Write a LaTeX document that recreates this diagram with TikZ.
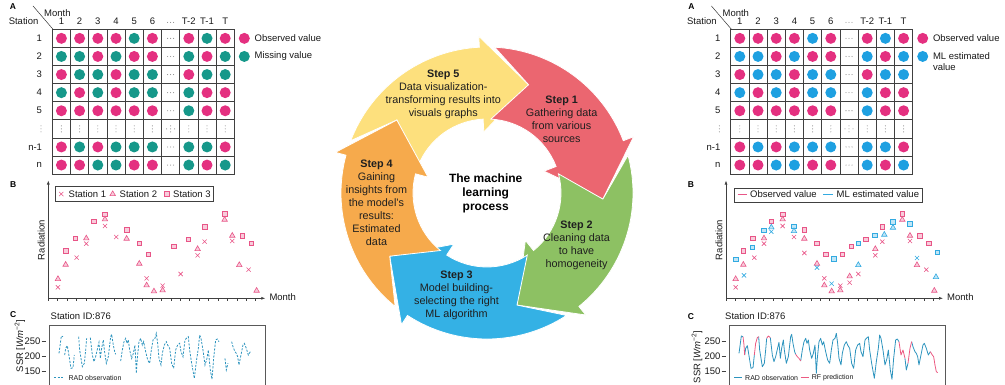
\documentclass[tikz,border=0pt]{standalone}
\usepackage{fontspec}
\setmainfont{Liberation Sans}
\usetikzlibrary{arrows.meta}
\usetikzlibrary{shapes.geometric,shapes.misc}

\definecolor{obspink}{RGB}{228,48,128}
\definecolor{missteal}{RGB}{22,152,138}
\definecolor{mlblue}{RGB}{30,160,225}
\definecolor{mkpink}{RGB}{232,85,135}
\definecolor{mkblue}{RGB}{50,170,225}
\definecolor{radline}{RGB}{45,148,190}
\definecolor{rfline}{RGB}{236,90,130}
\definecolor{stepred}{RGB}{235,102,112}
\definecolor{stepgreen}{RGB}{141,193,99}
\definecolor{stepblue}{RGB}{52,177,229}
\definecolor{steporange}{RGB}{246,170,76}
\definecolor{stepyellow}{RGB}{253,224,125}

% station x month table: 1 = observed, 0 = missing/estimated, 2 = skipped months
\def\gridrows{1/{1,1,1,1,0,1,2,1,0,1},2/{0,0,1,0,1,1,2,0,1,0},3/{1,0,0,1,0,0,2,1,0,0},
  4/{0,1,0,1,0,0,2,0,1,1},5/{1,1,1,1,1,1,2,0,1,1},7/{1,0,1,0,0,0,2,0,0,1},8/{1,1,0,0,1,1,2,0,1,0}}

% radiation points: x/y/mark (0 cross, 1 triangle, 2 square)/class (0 observed, 1 observed, 2 estimated)
\def\raddata{137/268/2/2,137/327/1/0,137/352/0/0,160/243/2/0,160/284/1/0,162/316/0/2,
  189/205/2/0,187/232/2/2,193/263/0/0,222/181/2/2,222/205/1/0,222/221/0/0,
  244/154/2/0,244/172/1/2,244/185/0/2,278/133/2/0,278/148/1/0,278/168/0/0,
  312/169/2/2,312/183/1/2,312/201/0/0,343/180/2/0,343/206/1/0,343/249/0/1,
  381/220/2/0,381/281/1/0,381/293/0/2,403/325/0/0,403/346/1/0,408/253/2/0,
  425/341/0/2,425/364/1/0,431/267/2/2,451/347/0/0,451/361/1/0,457/253/2/1,
  479/319/1/1,479/338/0/1,484/229/2/0,505/220/2/2,505/285/1/2,505/312/0/0,
  528/208/2/0,555/196/2/2,556/237/1/0,556/256/0/0,577/170/2/0,577/215/0/0,
  583/194/1/2,609/156/2/2,609/173/1/2,637/131/2/0,637/149/1/0,660/162/2/2,
  660/197/1/0,660/213/0/0,681/264/0/2,681/285/1/0,690/197/2/0,709/299/0/0,
  717/220/2/0,733/362/1/0,738/321/1/2,742/247/2/2}

% SSR series, observed stretches and gap-filling stretches
\def\ssrobs{(30,85) -- (37,33) -- (42,35)
  (47,90) -- (50,70) -- (55,62) -- (58,80) -- (62,105) -- (66,130) -- (72,128) -- (76,90)
  (89,35) -- (92,75) -- (96,100) -- (100,125) -- (106,115) -- (110,75) -- (113,40)
  (124,38) -- (130,90) -- (135,110) -- (140,95) -- (148,60) -- (150,52) -- (154,100) -- (158,70)
    -- (163,45) -- (166,75) -- (172,115) -- (178,95) -- (185,35) -- (188,28) -- (192,55) -- (197,80) -- (200,88)
  (215,108) -- (220,75) -- (225,50) -- (230,40) -- (234,55) -- (238,45) -- (242,75) -- (248,100)
    -- (253,85) -- (258,60) -- (262,145) -- (265,100) -- (270,50) -- (275,40) -- (280,60) -- (284,50)
    -- (290,80) -- (296,105) -- (302,115) -- (307,75) -- (312,45) -- (318,40) -- (322,25) -- (326,55)
    -- (330,100) -- (336,120) -- (340,85) -- (346,60) -- (352,50) -- (356,60) -- (362,70) -- (368,115)
    -- (374,130) -- (380,75) -- (386,60) -- (392,55) -- (396,80) -- (402,95) -- (408,45) -- (412,40)
    -- (418,35) -- (422,75) -- (428,115) -- (436,160) -- (442,110) -- (448,70) -- (452,30) -- (456,40)
    -- (462,75) -- (468,120) -- (474,100) -- (478,75) -- (484,135) -- (489,163) -- (494,100) -- (500,45)
    -- (505,42) -- (510,50)
  (528,100) -- (532,135) -- (537,115)
  (548,50) -- (552,65) -- (558,80) -- (562,85) -- (566,95) -- (570,120) -- (574,100) -- (578,80)
    -- (582,60) -- (586,55) -- (592,70) -- (598,90) -- (604,80)}
\def\ssrpred{(42,35) -- (45,60) -- (47,90)
  (76,90) -- (80,55) -- (85,38) -- (89,35)
  (113,40) -- (118,33) -- (124,38)
  (200,88) -- (205,95) -- (210,100) -- (215,108)
  (510,50) -- (516,90) -- (522,75) -- (528,100)
  (537,115) -- (543,70) -- (548,50)
  (604,80) -- (610,90) -- (614,95) -- (618,120) -- (622,140) -- (626,143)}

% #1 left edge, #2 colour of the non-observed cells, #3 second legend entry
\newcommand{\stationgrid}[3]{%
\begin{scope}[shift={(#1,29.3)}, x=18.2pt, y=-18.1pt]
  \foreach \c in {1,...,10}
    \foreach \r in {1,...,8}
      \draw[cell] (\c-1,\r-1) rectangle (\c,\r);
  \foreach \r/\vals in \gridrows
    \foreach \v [count=\c] in \vals {
      \ifcase\v
        \node[ball, fill=#2] (b\r\c) at (\c-0.5,\r-0.5) {};
      \or
        \node[ball, fill=obspink] (b\r\c) at (\c-0.5,\r-0.5) {};
      \or
        \fill[hdot] (\c-0.5,\r-0.5) circle (0.55pt) ++(-3pt,0) circle (0.55pt) ++(6pt,0) circle (0.55pt);
      \fi}
  % the skipped stations
  \foreach \c in {1,...,10}
    \fill[hdot] (\c-0.5,5.5) circle (0.55pt) ++(0,3pt) circle (0.55pt) ++(0,-6pt) circle (0.55pt);
  \fill[hdot] (6.5,5.5) ++(-4pt,0) circle (0.55pt) ++(8pt,0) circle (0.55pt);
  \fill[hdot] (-0.62,5.5) circle (0.55pt) ++(0,3pt) circle (0.55pt) ++(0,-6pt) circle (0.55pt);
  \fill[hdot] (6.5,-0.38) circle (0.55pt) ++(-3pt,0) circle (0.55pt) ++(6pt,0) circle (0.55pt);
  % headers
  \foreach \lab [count=\c] in {1,2,3,4,5,6,{},T-2,T-1,T}
    \node[txt] (m\c) at (\c-0.5,-0.46) {\lab};
  \foreach \lab [count=\r] in {1,2,3,4,5,{},n-1,n}
    \node[txt, anchor=east] (s\r) at (-0.5,\r-0.5) {\lab};
  \draw[line width=0.5pt, black!80] (-1.06,-1.29) -- (0.04,0);
  \node[txt] (month) at (0.28,-0.9) {Month};
  \node[txt] (station) at (-1.58,-0.47) {Station};
  \node[letter] (lA) at (-2.16,-1.24) {A};
  % legend
  \node[ball, fill=obspink] (k1) at (10.55,0.5) {};
  \node[txt, anchor=west] (k1t) at (11.05,0.5) {Observed value};
  \node[ball, fill=#2] (k2) at (10.55,1.5) {};
  #3
\end{scope}}

% #1 position of the radiation axis, #2 highest class of point shown
\newcommand{\radpanel}[2]{%
\begin{scope}[shift={(#1,0)}]
  \draw[axisline, -{Latex[length=4pt,width=3pt]}] (0,298.3) -- (0,180.5);
  \draw[axisline, -{Latex[length=4pt,width=3pt]}] (0,298.3) -- (217,298.3);
  \foreach \k in {0,...,22}
    \draw[axisline] (\k*9.43,298.3) -- ++(0,2.5);
  \node[txt, rotate=90] (rad) at (-7,240) {Radiation};
  \node[txt, anchor=west] (mon) at (220,297) {Month};
  \node[letter] (lB) at (-35,185) {B};
  \begin{scope}[shift={(-36,170)}, x=0.3333pt, y=-0.3333pt]
    \foreach \zx/\zy/\mk/\cl in \raddata {
      \ifnum\cl>#2\relax\else
        \ifnum\cl=2 \def\mc{mkblue}\else\def\mc{mkpink}\fi
        \ifcase\mk
          \node[xmark, draw=\mc] at (\zx,\zy) {};
        \or
          \node[tmark, draw=\mc, fill=\mc!30] at (\zx,\zy) {};
        \or
          \node[smark, draw=\mc, fill=\mc!30] at (\zx,\zy) {};
        \fi
      \fi}
  \end{scope}
\end{scope}}

% #1 left edge of the frame, #2 the curves and legend
\newcommand{\ssrpanel}[2]{%
\begin{scope}[shift={(#1,325)}, x=0.3333pt, y=-0.3333pt]
  \draw[frame] (0,200) |- (650,0) -- (650,200);
  \foreach \v/\zy in {250/50,200/93,150/138} {
    \draw[axisline] (-22,\zy) -- (-10,\zy);
    \node[txt, anchor=east] (t\v) at (-22,\zy) {\v};
  }
  #2
\end{scope}}

\begin{document}
\begin{tikzpicture}[x=1pt, y=-1pt,
  txt/.style={font=\fontsize{9.5}{11}\selectfont, text=black!90, inner sep=1pt},
  small/.style={font=\fontsize{7}{8}\selectfont, text=black!90, inner sep=1pt},
  letter/.style={font=\fontsize{8.5}{10}\selectfont\bfseries},
  cell/.style={draw=black!75, line width=0.7pt},
  ball/.style={circle, inner sep=0pt, minimum size=11pt},
  hdot/.style={fill=black!45},
  xmark/.style={cross out, line width=0.6pt, inner sep=0pt, minimum size=3.6pt},
  tmark/.style={regular polygon, regular polygon sides=3, line width=0.6pt, inner sep=0pt, minimum size=6.3pt},
  smark/.style={rectangle, line width=0.6pt, inner sep=0pt, minimum size=4.8pt},
  axisline/.style={line width=0.6pt, black!75},
  frame/.style={draw=black!65, line width=0.8pt},
  steptext/.style={align=center, font=\fontsize{10.8}{13}\selectfont, text=black!88},
  arrowseg/.style={draw=white, line width=0.8pt}]
\useasboundingbox (0,0) rectangle (1005,384);

%% left: data with gaps
\stationgrid{52.3}{missteal}{\node[txt, anchor=west] (k2t) at (11.05,1.5) {Missing value};}
\radpanel{48.3}{0}
\draw[axisline, fill=white] (55,186.7) rectangle (213,201.7);
\node[xmark, draw=mkpink] (lg1) at (61.3,194) {};
\node[txt, anchor=west] at (67.5,194) {Station 1};
\node[tmark, draw=mkpink, fill=mkpink!30] (lg2) at (112.7,194) {};
\node[txt, anchor=west] at (118.5,194) {Station 2};
\node[smark, draw=mkpink, fill=mkpink!30] (lg3) at (166.7,194) {};
\node[txt, anchor=west] at (172,194) {Station 3};
\node[letter] (lC) at (13.3,315) {C};
\node[txt, anchor=west] (idL) at (49.5,316) {Station ID:876};
\node[txt, rotate=90] (ssrL) at (20,346) {SSR [\textit{Wm}\textsuperscript{−2}]};
\ssrpanel{49}{
  \draw[radline, line width=0.8pt, dash pattern=on 2.2pt off 1.4pt] \ssrobs;
  \draw[radline, line width=0.8pt, dash pattern=on 2.2pt off 1.4pt] (15,158) -- (45,158);
  \node[small, anchor=west] (legL) at (55,158) {RAD observation};
}

%% right: gaps filled by the model
\stationgrid{730.7}{mlblue}{\node[txt, anchor=north west, align=left] (k2t) at (11.05,1.2) {ML estimated\\value};}
\radpanel{726}{2}
\draw[axisline, fill=white] (734,188) rectangle (922,202);
\draw[mkpink, line width=0.8pt] (737.7,194.5) -- (746.7,194.5);
\node[txt, anchor=west] (obsR) at (749,194.5) {Observed value};
\draw[mkblue, line width=0.8pt] (823.3,194.5) -- (833.3,194.5);
\node[txt, anchor=west] (mlR) at (835.5,194.5) {ML estimated value};
\node[letter] (lC2) at (691,317) {C};
\node[txt, anchor=west] (idR) at (724,316) {Station ID:876};
\node[txt, rotate=90] (ssrR) at (697,357) {SSR [\textit{Wm}\textsuperscript{−2}]};
\ssrpanel{729}{
  \draw[radline, line width=0.8pt, line join=round] \ssrobs;
  \draw[rfline, line width=0.8pt, line join=round] \ssrpred;
  \draw[radline, line width=0.8pt] (15,158) -- (40,158);
  \node[small, anchor=west] (legR1) at (45,158) {RAD observation};
  \draw[rfline, line width=0.8pt] (215,158) -- (240,158);
  \node[small, anchor=west] (legR2) at (245,158) {RF prediction};
}

%% the five-step cycle
\begin{scope}[shift={(487,193)}, y=1pt]
  \foreach \b/\col in {93/stepyellow,21/stepred,-51/stepgreen,-123/stepblue,-195/steporange} {
    \pgfmathsetmacro\bp{\b+72}
    \filldraw[arrowseg, fill=\col] (\bp-6:146) arc[start angle=\bp-6, end angle=\b, radius=146]
      -- (\b:157) -- (\b-24:116) -- (\b:61) -- (\b:74)
      arc[start angle=\b, end angle=\bp-6, radius=74] -- (\bp-24:116) -- cycle;
  }
\end{scope}
\node[steptext] (s5) at (443.3,94) {\textbf{Step 5}\\Data visualization-\\transforming results into\\visuals graphs};
\node[steptext] (s1) at (561.7,119.5) {\textbf{Step 1}\\Gathering data\\from various\\sources};
\node[steptext] (s2) at (576.5,245.5) {\textbf{Step 2}\\Cleaning data\\to have\\homogeneity};
\node[steptext] (s3) at (456.5,295) {\textbf{Step 3}\\Model building-\\selecting the right\\ML algorithm};
\node[steptext] (s4) at (376.5,202.5) {\textbf{Step 4}\\Gaining\\insights from\\the model's\\results:\\Estimated\\data};
\node[align=center, font=\fontsize{12}{14.2}\selectfont\bfseries] (core) at (485.7,193.5) {The machine\\learning\\process};
\end{tikzpicture}
\end{document}
